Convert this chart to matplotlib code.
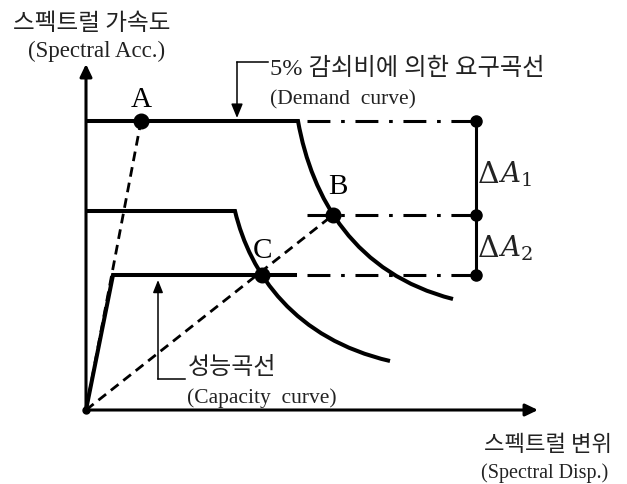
import matplotlib
matplotlib.use("Agg")
import matplotlib.pyplot as plt
from matplotlib.path import Path
from matplotlib.patches import PathPatch

plt.rcParams["mathtext.fontset"] = "dejavuserif"

# 도식 좌표 (가로: 스펙트럴 변위, 세로: 스펙트럴 가속도, 아래쪽이 큰 값)
origin = (86, 411)
y_axis_top = 65
x_axis_right = 538

# 성능곡선 (탄성 구간 -> 항복 후 수평)
capacity_x = [86, 113, 295]
capacity_y = [411, 276, 276]

# 요구곡선: 수평 구간 끝점 + 곡선 구간 베지에 제어점
demand5_flat_y = 122
demand5_corner = (298, 122)
demand5_ctrl = [(312, 200), (355, 275), (453, 300)]

demand2_flat_y = 212
demand2_corner = (235, 212)
demand2_ctrl = [(250, 275), (295, 340), (390, 362)]

# 점 A, B, C
point_names = ["A", "B", "C"]
point_x = [141, 333, 262]
point_y = [122, 216, 276]
label_dx = [0, 5, 1]
label_dy = [-22, -29, -25]

# 가속도 차이 표시선
delta_levels = [122, 216, 276]
delta_labels = ["$A_1$", "$A_2$"]
delta_label_y = [183, 257]
delta_x = 476
dashdot_start = 307

fig = plt.figure(figsize=(6.27, 4.85), dpi=100)
ax = fig.add_axes([0, 0, 1, 1])
ax.set_xlim(0, 627)
ax.set_ylim(485, 0)
ax.axis("off")

axis_lw = 2.2
curve_lw = 2.9

# 좌표축
ax.annotate("", xy=(origin[0], y_axis_top), xytext=origin,
            arrowprops=dict(arrowstyle="-|>,head_length=0.75,head_width=0.36",
                            lw=axis_lw, color="black", shrinkA=0, shrinkB=0))
ax.annotate("", xy=(x_axis_right, origin[1]), xytext=origin,
            arrowprops=dict(arrowstyle="-|>,head_length=0.75,head_width=0.36",
                            lw=axis_lw, color="black", shrinkA=0, shrinkB=0))


def demand_path(flat_y, corner, ctrl):
    verts = [(origin[0], flat_y), corner] + ctrl
    codes = [Path.MOVETO, Path.LINETO, Path.CURVE4, Path.CURVE4, Path.CURVE4]
    return Path(verts, codes)


for flat_y, corner, ctrl in [(demand5_flat_y, demand5_corner, demand5_ctrl),
                             (demand2_flat_y, demand2_corner, demand2_ctrl)]:
    patch = PathPatch(demand_path(flat_y, corner, ctrl), facecolor="none",
                      edgecolor="black", lw=curve_lw, joinstyle="miter",
                      capstyle="butt")
    ax.add_patch(patch)

ax.plot(capacity_x, capacity_y, color="black", lw=curve_lw,
        solid_joinstyle="miter")

# 원점에서 A, B로 가는 점선
for px, py in [(point_x[0], point_y[0]), (point_x[1], point_y[1])]:
    ax.plot([origin[0], px], [origin[1], py], color="black", lw=2.0,
            linestyle=(0, (3.5, 2.2)))

# 일점쇄선
for lv in delta_levels:
    ax.plot([dashdot_start, delta_x], [lv, lv], color="black", lw=2.2,
            linestyle=(0, (7.5, 3.5, 1.2, 3.5)))

ax.plot([delta_x, delta_x], [delta_levels[0], delta_levels[-1]],
        color="black", lw=2.2)
ax.plot([delta_x] * len(delta_levels), delta_levels, "o", color="black", ms=8)

ax.plot(point_x, point_y, "o", color="black", ms=10.5)
ax.plot([origin[0]], [origin[1]], "o", color="black", ms=5)

for name, px, py, dx, dy in zip(point_names, point_x, point_y, label_dx, label_dy):
    ax.text(px + dx, py + dy, name, family="Liberation Serif", fontsize=21,
            ha="center", va="center")

# ΔA 표기: Δ는 정자체, A는 이탤릭
for lab, ly in zip(delta_labels, delta_label_y):
    ax.text(478, ly, "Δ", family="DejaVu Serif", fontsize=21.5, ha="left",
            va="baseline", color="#222222")
    ax.text(498, ly, lab, fontsize=20, ha="left", va="baseline",
            color="#222222")

# 지시선
ax.plot([268, 237], [63, 63], color="black", lw=1.1)
ax.annotate("", xy=(237, 119), xytext=(237, 63),
            arrowprops=dict(arrowstyle="-|>,head_length=0.85,head_width=0.35",
                            lw=1.1, color="black", shrinkA=0, shrinkB=0))
ax.plot([185, 158], [380, 380], color="black", lw=1.1)
ax.annotate("", xy=(158, 281), xytext=(158, 380),
            arrowprops=dict(arrowstyle="-|>,head_length=0.75,head_width=0.3",
                            lw=1.1, color="black", shrinkA=0, shrinkB=0))

kr = "Noto Sans CJK KR"
serif = "Liberation Serif"
tc = "#222222"

ax.text(92, 23, "스펙트럴 가속도", family=kr, fontsize=17, ha="center",
        va="center", color=tc)
ax.text(97, 51, "(Spectral Acc.)", family=serif, fontsize=16.5, ha="center",
        va="center", color=tc)
ax.text(270, 69, "5% 감쇠비에 의한 요구곡선", family=[serif, kr], fontsize=17.5,
        ha="left", va="center", color=tc)
ax.text(270, 100, "(Demand  curve)", family=serif, fontsize=15.5, ha="left",
        va="center", color=tc)
ax.text(188, 367, "성능곡선", family=kr, fontsize=17.3, ha="left", va="center",
        color=tc)
ax.text(187, 398, "(Capacity  curve)", family=serif, fontsize=15.5, ha="left",
        va="center", color=tc)
ax.text(612, 445, "스펙트럴 변위", family=kr, fontsize=16, ha="right",
        va="center", color=tc)
ax.text(608, 473, "(Spectral Disp.)", family=serif, fontsize=14.5, ha="right",
        va="center", color=tc)

fig.savefig("out.png", dpi=100, facecolor="white")
